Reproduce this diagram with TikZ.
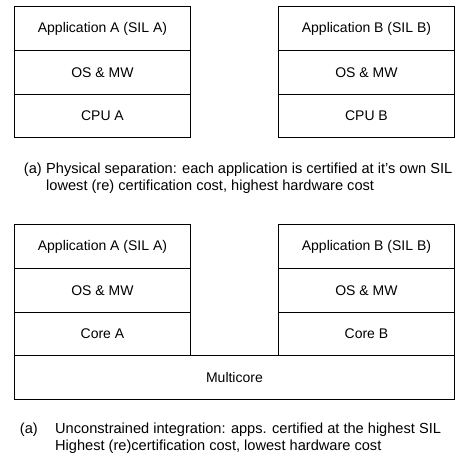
\documentclass[tikz,border=0pt]{standalone}
\usepackage{fontspec}
\setmainfont{Liberation Sans}
\begin{document}
\begin{tikzpicture}[x=1pt,y=-1pt,
  layer/.style={draw, line width=0.9pt, minimum height=44pt, minimum width=176pt, inner sep=0pt, anchor=north west, font=\fontsize{14}{16}\selectfont},
  captext/.style={anchor=base west, inner sep=0pt, font=\fontsize{14.6}{17}\selectfont},
  tag/.style={anchor=base east, inner sep=0pt, font=\fontsize{14.6}{17}\selectfont}]
\useasboundingbox (0,0) rectangle (456,455);
% top left
\node[layer] (appA) at (14,6) {Application A (SIL A)};
\node[layer] (osA) at (14,50) {OS \& MW};
\node[layer, minimum height=43pt] (cpuA) at (14,94) {CPU A};
% top right
\node[layer] (appB) at (278,6) {Application B (SIL B)};
\node[layer] (osB) at (278,50) {OS \& MW};
\node[layer, minimum height=43pt] (cpuB) at (278,94) {CPU B};
% caption 1
\node[tag] (c1a) at (42,173) {(a)};
\node[captext] (c1b) at (46,173) {Physical separation: each application is certified at it's own SIL};
\node[captext] (c1c) at (46,190) {lowest (re) certification cost, highest hardware cost};
% bottom left
\node[layer] (app2A) at (14,224) {Application A (SIL A)};
\node[layer, minimum height=43.5pt] (os2A) at (14,268) {OS \& MW};
\node[layer, minimum height=43.5pt] (coreA) at (14,311.5) {Core A};
% bottom right
\node[layer] (app2B) at (278,224) {Application B (SIL B)};
\node[layer, minimum height=43.5pt] (os2B) at (278,268) {OS \& MW};
\node[layer, minimum height=43.5pt] (coreB) at (278,311.5) {Core B};
% multicore
\node[layer, minimum width=440pt] (multi) at (14,355) {Multicore};
% caption 2
\node[tag] (c2a) at (38,433) {(a)};
\node[captext] (c2b) at (55,433) {Unconstrained integration: apps. certified at the highest SIL};
\node[captext] (c2c) at (55,450) {Highest (re)certification cost, lowest hardware cost};
\end{tikzpicture}
\end{document}
